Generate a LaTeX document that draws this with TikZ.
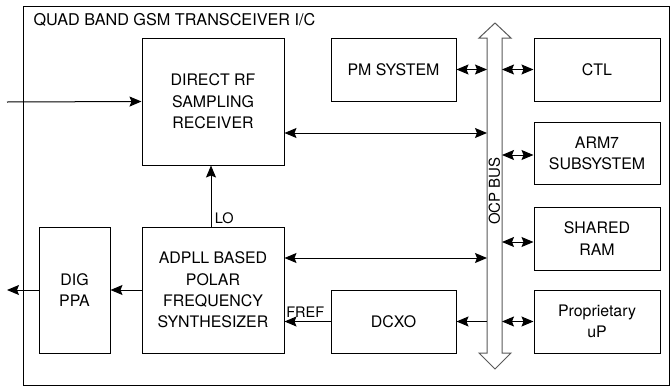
\documentclass[tikz,border=0pt]{standalone}
\usepackage{fontspec}
\setmainfont{TeX Gyre Heros}
\usetikzlibrary{arrows.meta}
\definecolor{busgray}{gray}{.35}

\tikzset{
  blk/.style={draw,line width=1pt,align=center,inner sep=0pt,font=\fontsize{15.9}{21.3}\selectfont},
  lbl/.style={font=\fontsize{14.5}{16}\selectfont},
  con/.style={line width=1pt,-{Stealth[length=12pt,width=10pt,inset=2pt]}},
  bicon/.style={line width=1pt,{Stealth[length=12pt,width=10pt,inset=2pt]}-{Stealth[length=12pt,width=10pt,inset=2pt]}},
}

\begin{document}
\begin{tikzpicture}[x=1pt,y=-1pt]
        \useasboundingbox (0,0) rectangle (670,386);
        \draw [line width=1pt] (23,6) rectangle (669,385);
        \node [anchor=west,font=\fontsize{16.2}{18}\selectfont] (title) at (30,20) {QUAD BAND GSM TRANSCEIVER I/C};
        % blocks
        \node [blk,minimum width=142pt,minimum height=127pt] (rf) at (213,101.5) {DIRECT RF\\SAMPLING\\RECEIVER};
        \node [blk,minimum width=142pt,minimum height=126pt] (adpll) at (213,290) {ADPLL BASED\\POLAR\\FREQUENCY\\SYNTHESIZER};
        \node [blk,minimum width=71pt,minimum height=126pt] (ppa) at (74.5,290) {DIG\\PPA};
        \node [blk,minimum width=125pt,minimum height=63pt] (pm) at (393.5,69.5) {PM SYSTEM};
        \node [blk,minimum width=125pt,minimum height=63pt] (dcxo) at (393.5,321.5) {DCXO};
        \node [blk,minimum width=126pt,minimum height=63pt] (ctl) at (597,69.5) {CTL};
        \node [blk,minimum width=126pt,minimum height=62pt] (arm) at (597,153) {ARM7\\SUBSYSTEM};
        \node [blk,minimum width=126pt,minimum height=63pt] (ram) at (597,238.5) {SHARED\\RAM};
        \node [blk,minimum width=126pt,minimum height=63pt] (prop) at (597,321.5) {Proprietary\\uP};
        % OCP bus
        \draw [line width=1pt,busgray,fill=white] (487,38)--(479,38)--(495,23)--(511,38)--(502,38)--(502,353)--(511,353)--(495,369)--(479,353)--(487,353)--cycle;
        \coordinate (busL) at (487,0);
        \coordinate (busR) at (502,0);
        \node [rotate=90,font=\fontsize{15}{18}\selectfont,inner sep=0pt] (ocp) at (494.5,191) {OCP BUS};
        \coordinate (rfin) at (7,102);
        \coordinate (ppaout) at (7,290);
        % connections
        \draw [con] (rfin) -- (rf.west);
        \draw [con] (adpll.north -| 211,0) -- (rf.south -| 211,0) node [lbl,pos=.14,anchor=west] {LO};
        \draw [bicon] ([yshift=-31.5pt]rf.east) -- ([yshift=-31.5pt]rf.east -| busL);
        \draw [bicon] ([yshift=32pt]adpll.east) -- ([yshift=32pt]adpll.east -| busL);
        \draw [con] (adpll.west) -- (ppa.east);
        \draw [con] (ppa.west) -- (ppaout);
        \draw [con] (dcxo.west) -- (dcxo.west -| adpll.east) node [lbl,pos=.55,anchor=south] {FREF};
        \draw [con] (dcxo.east -| busL) -- (dcxo.east);
        \draw [bicon] (pm.east) -- (pm.east -| busL);
        \draw [bicon] (ctl.west -| busR) -- (ctl.west);
        \draw [bicon] ([yshift=-2pt]arm.west -| busR) -- ([yshift=-2pt]arm.west);
        \draw [bicon] ([yshift=-3.5pt]ram.west -| busR) -- ([yshift=-3.5pt]ram.west);
        \draw [bicon] (prop.west -| busR) -- (prop.west);
\end{tikzpicture}
\end{document}
